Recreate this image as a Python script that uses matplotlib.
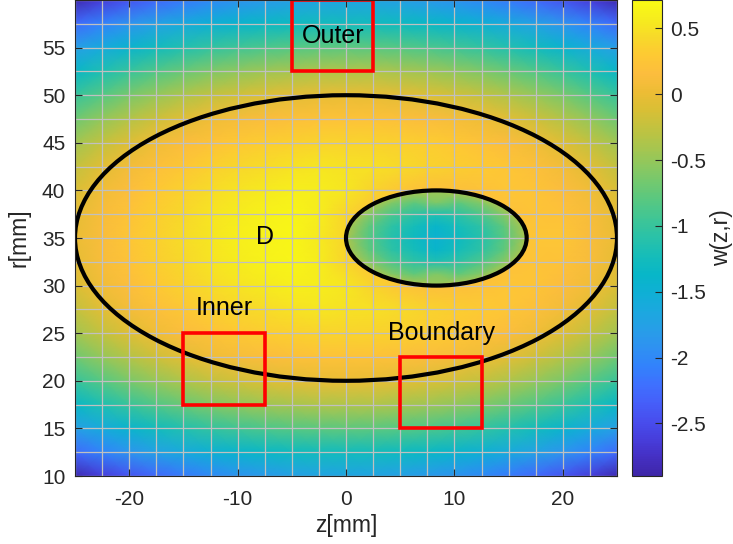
import numpy as np
import matplotlib
matplotlib.use('Agg')
import matplotlib.pyplot as plt
from matplotlib.colors import LinearSegmentedColormap
from matplotlib.patches import Ellipse, Rectangle
from matplotlib.ticker import MultipleLocator, FormatStrFormatter

plt.rcParams['font.family'] = ['Liberation Sans', 'DejaVu Sans']
plt.rcParams['axes.unicode_minus'] = False

# ---------------- data ----------------
z_nodes = [-25, -22.5, -20, -17.5, -15, -12.5, -10, -7.5, -5, -2.5, 0,
           2.5, 5, 7.5, 10, 12.5, 15, 17.5, 20, 22.5, 25]
r_nodes = [10, 12.5, 15, 17.5, 20, 22.5, 25, 27.5, 30, 32.5, 35,
           37.5, 40, 42.5, 45, 47.5, 50, 52.5, 55, 57.5, 60]

w_r10   = [-2.85,-2.62,-2.43,-2.27,-2.13,-2.01,-1.91,-1.83,-1.77,-1.72,-1.70,-1.72,-1.77,-1.83,-1.91,-2.01,-2.13,-2.27,-2.43,-2.62,-2.85]
w_r12_5 = [-2.25,-2.06,-1.89,-1.74,-1.61,-1.50,-1.41,-1.34,-1.29,-1.26,-1.25,-1.26,-1.29,-1.34,-1.41,-1.50,-1.61,-1.74,-1.89,-2.06,-2.25]
w_r15   = [-1.78,-1.59,-1.42,-1.27,-1.14,-1.03,-0.94,-0.87,-0.82,-0.79,-0.78,-0.79,-0.82,-0.87,-0.94,-1.03,-1.14,-1.27,-1.42,-1.59,-1.78]
w_r17_5 = [-1.36,-1.17,-1.00,-0.85,-0.72,-0.61,-0.52,-0.45,-0.40,-0.37,-0.36,-0.37,-0.40,-0.45,-0.52,-0.61,-0.72,-0.85,-1.00,-1.17,-1.36]
w_r20   = [-1.00,-0.81,-0.64,-0.49,-0.36,-0.25,-0.16,-0.09,-0.04,-0.01,0.00,-0.01,-0.04,-0.09,-0.16,-0.25,-0.36,-0.49,-0.64,-0.81,-1.00]
w_r22_5 = [-0.69,-0.50,-0.33,-0.18,-0.05,0.04,0.10,0.15,0.19,0.21,0.21,0.21,0.19,0.15,0.10,0.04,-0.05,-0.18,-0.33,-0.50,-0.69]
w_r25   = [-0.44,-0.25,-0.08,0.05,0.14,0.21,0.28,0.33,0.36,0.38,0.39,0.38,0.36,0.33,0.28,0.21,0.14,0.05,-0.08,-0.25,-0.44]
w_r27_5 = [-0.25,-0.06,0.08,0.18,0.27,0.35,0.41,0.46,0.50,0.52,0.50,0.48,0.44,0.38,0.34,0.30,0.25,0.18,0.08,-0.06,-0.25]
w_r30   = [-0.11,0.06,0.17,0.28,0.37,0.45,0.51,0.56,0.59,0.58,0.52,0.38,0.25,0.18,0.18,0.22,0.26,0.24,0.16,0.06,-0.11]
w_r32_5 = [-0.03,0.11,0.23,0.34,0.43,0.51,0.57,0.62,0.65,0.58,0.40,0.20,0.20,0.20,0.20,0.20,0.20,0.24,0.22,0.11,-0.03]
w_r35   = [0.00,0.13,0.25,0.36,0.45,0.52,0.59,0.64,0.67,0.55,0.40,0.20,0.20,0.20,0.20,0.20,0.20,0.25,0.25,0.13,0.00]
w_r37_5 = [-0.03,0.11,0.23,0.34,0.43,0.51,0.57,0.62,0.65,0.58,0.40,0.20,0.20,0.20,0.20,0.20,0.20,0.24,0.22,0.11,-0.03]
w_r40   = [-0.11,0.06,0.17,0.28,0.37,0.45,0.51,0.56,0.59,0.58,0.52,0.38,0.25,0.18,0.18,0.22,0.26,0.24,0.16,0.06,-0.11]
w_r42_5 = [-0.25,-0.06,0.08,0.18,0.27,0.35,0.41,0.46,0.50,0.52,0.50,0.48,0.44,0.38,0.34,0.30,0.25,0.18,0.08,-0.06,-0.25]
w_r45   = [-0.44,-0.25,-0.08,0.05,0.14,0.21,0.28,0.33,0.36,0.38,0.39,0.38,0.36,0.33,0.28,0.21,0.14,0.05,-0.08,-0.25,-0.44]
w_r47_5 = [-0.69,-0.50,-0.33,-0.18,-0.05,0.04,0.10,0.15,0.19,0.21,0.21,0.21,0.19,0.15,0.10,0.04,-0.05,-0.18,-0.33,-0.50,-0.69]
w_r50   = [-1.00,-0.81,-0.64,-0.49,-0.36,-0.25,-0.16,-0.09,-0.04,-0.01,0.00,-0.01,-0.04,-0.09,-0.16,-0.25,-0.36,-0.49,-0.64,-0.81,-1.00]
w_r52_5 = [-1.36,-1.17,-1.00,-0.85,-0.72,-0.61,-0.52,-0.45,-0.40,-0.37,-0.36,-0.37,-0.40,-0.45,-0.52,-0.61,-0.72,-0.85,-1.00,-1.17,-1.36]
w_r55   = [-1.78,-1.59,-1.42,-1.27,-1.14,-1.03,-0.94,-0.87,-0.82,-0.79,-0.78,-0.79,-0.82,-0.87,-0.94,-1.03,-1.14,-1.27,-1.42,-1.59,-1.78]
w_r57_5 = [-2.25,-2.06,-1.89,-1.74,-1.61,-1.50,-1.41,-1.34,-1.29,-1.26,-1.25,-1.26,-1.29,-1.34,-1.41,-1.50,-1.61,-1.74,-1.89,-2.06,-2.25]
w_r60   = [-2.85,-2.62,-2.43,-2.27,-2.13,-2.01,-1.91,-1.83,-1.77,-1.72,-1.70,-1.72,-1.77,-1.83,-1.91,-2.01,-2.13,-2.27,-2.43,-2.62,-2.85]

# inner (small ellipse) field
z_inner = [0.0, 2.083, 4.167, 6.25, 8.333, 10.417, 12.5, 14.583, 16.667]
r_inner = [30.0, 31.25, 32.5, 33.75, 35.0, 36.25, 37.5, 38.75, 40.0]
wi_r30    = [0.55, 0.13, -0.16, -0.34, -0.45, -0.34, -0.16, 0.13, 0.55]
wi_r31_25 = [0.13, -0.28, -0.58, -0.76, -0.60, -0.76, -0.58, -0.28, 0.13]
wi_r32_5  = [-0.16, -0.58, -0.87, -1.05, -1.15, -1.05, -0.87, -0.58, -0.16]
wi_r33_75 = [-0.34, -0.76, -1.05, -1.23, -1.40, -1.23, -1.05, -0.76, -0.34]
wi_r35    = [-0.40, -0.82, -1.11, -1.29, -1.45, -1.29, -1.11, -0.82, -0.40]
wi_r36_25 = [-0.34, -0.76, -1.05, -1.23, -1.40, -1.23, -1.05, -0.76, -0.34]
wi_r37_5  = [-0.16, -0.58, -0.87, -1.05, -1.15, -1.05, -0.87, -0.58, -0.16]
wi_r38_75 = [0.13, -0.28, -0.58, -0.76, -0.60, -0.76, -0.58, -0.28, 0.13]
wi_r40    = [0.55, 0.13, -0.16, -0.34, -0.45, -0.34, -0.16, 0.13, 0.55]

# domain outlines and regions
outer_center, outer_w, outer_h = (0, 35), 50, 30
inner_center, inner_w, inner_h = (8.333, 35), 16.667, 10
box_names = ['Outer', 'Inner', 'Boundary']
box_z0 = [-5, -15, 5]
box_r0 = [52.5, 17.5, 15]
box_size = [7.5, 7.5, 7.5]
label_text = ['Outer', 'Inner', 'Boundary', 'D']
label_z = [-1.2, -11.2, 8.8, -7.5]
label_r = [56.2, 27.6, 25.0, 35.1]

x_ticks = [-20, -10, 0, 10, 20]
y_ticks = [10, 15, 20, 25, 30, 35, 40, 45, 50, 55]
cb_ticks = [0.5, 0, -0.5, -1, -1.5, -2, -2.5]
c_min, c_max = -2.9, 0.716

# ---------------- parula-like colormap ----------------
parula_pts = [
    (0.2422, 0.1504, 0.6603), (0.2691, 0.1871, 0.7647), (0.2783, 0.2439, 0.8615),
    (0.2813, 0.3067, 0.9342), (0.2713, 0.3733, 0.9773), (0.2434, 0.4418, 0.9967),
    (0.1964, 0.5125, 0.9858), (0.1815, 0.5705, 0.9485), (0.1532, 0.6207, 0.9060),
    (0.1071, 0.6588, 0.8729), (0.0592, 0.6881, 0.8335), (0.0305, 0.7158, 0.7843),
    (0.0843, 0.7389, 0.7264), (0.1593, 0.7583, 0.6617), (0.2432, 0.7729, 0.5888),
    (0.3362, 0.7832, 0.5120), (0.4425, 0.7868, 0.4391), (0.5559, 0.7829, 0.3695),
    (0.6617, 0.7736, 0.3053), (0.7576, 0.7616, 0.2492), (0.8469, 0.7491, 0.2091),
    (0.9282, 0.7390, 0.2087), (0.9879, 0.7407, 0.2424), (0.9951, 0.7876, 0.2020),
    (0.9681, 0.8503, 0.1643), (0.9657, 0.9254, 0.1147), (0.9769, 0.9839, 0.0805)]
parula = LinearSegmentedColormap.from_list('parula', parula_pts, N=256)

# ---------------- figure ----------------
fig = plt.figure(figsize=(7.33, 5.44), dpi=100)
ax = fig.add_axes([75/733, 68/544, 542/733, 476/544])

W = np.array([w_r10, w_r12_5, w_r15, w_r17_5, w_r20, w_r22_5, w_r25, w_r27_5,
              w_r30, w_r32_5, w_r35, w_r37_5, w_r40, w_r42_5, w_r45, w_r47_5,
              w_r50, w_r52_5, w_r55, w_r57_5, w_r60])
Z, R = np.meshgrid(z_nodes, r_nodes)
mesh = ax.pcolormesh(Z, R, W, shading='gouraud', cmap=parula,
                     vmin=c_min, vmax=c_max, zorder=0)

Wi = np.array([wi_r30, wi_r31_25, wi_r32_5, wi_r33_75, wi_r35, wi_r36_25,
               wi_r37_5, wi_r38_75, wi_r40])
Zi, Ri = np.meshgrid(z_inner, r_inner)
mesh_in = ax.pcolormesh(Zi, Ri, Wi, shading='gouraud', cmap=parula,
                        vmin=c_min, vmax=c_max, zorder=0.5)
clip_el = Ellipse(inner_center, inner_w, inner_h, transform=ax.transData)
mesh_in.set_clip_path(clip_el)

ax.set_xlim(-25, 25)
ax.set_ylim(10, 60)
ax.set_xticks(x_ticks)
ax.set_yticks(y_ticks)
ax.xaxis.set_minor_locator(MultipleLocator(2.5))
ax.yaxis.set_minor_locator(MultipleLocator(2.5))
ax.grid(which='both', color='#c0c0c0', linewidth=0.9, zorder=1)
ax.set_axisbelow(False)

dark = (0.15, 0.15, 0.15)
ax.tick_params(which='major', direction='in', length=5, width=0.8, top=True,
               right=True, labelsize=15, colors=dark)
ax.tick_params(axis='x', which='major', pad=10)
ax.tick_params(axis='y', which='major', pad=7)
ax.tick_params(which='minor', length=0, top=True, right=True)
for s in ax.spines.values():
    s.set_color(dark)
    s.set_linewidth(0.8)
    s.set_zorder(5)

ax.add_patch(Ellipse(outer_center, outer_w, outer_h, fill=False,
                     edgecolor='black', linewidth=3, zorder=3))
ax.add_patch(Ellipse(inner_center, inner_w, inner_h, fill=False,
                     edgecolor='black', linewidth=3, zorder=3))
for z0, r0, s in zip(box_z0, box_r0, box_size):
    ax.add_patch(Rectangle((z0, r0), s, s, fill=False, edgecolor='red',
                           linewidth=2.6, zorder=4, clip_on=False))
for t, zt, rt in zip(label_text, label_z, label_r):
    ax.text(zt, rt, t, ha='center', va='center', fontsize=18, color='black',
            zorder=6)

ax.set_xlabel('z[mm]', fontsize=16.5, color=dark, labelpad=4)
ax.set_ylabel('r[mm]', fontsize=16.5, color=dark, labelpad=8)

cax = fig.add_axes([632/733, 68/544, 30/733, 476/544])
cb = fig.colorbar(mesh, cax=cax, ticks=cb_ticks,
                  format=FormatStrFormatter('%g'))
cb.ax.tick_params(direction='in', length=5, width=0.8, labelsize=15,
                  colors=dark, pad=6)
cb.outline.set_edgecolor(dark)
cb.outline.set_linewidth(0.8)
cb.set_label('w(z,r)', fontsize=16.5, color=dark, labelpad=3)

fig.savefig('out.png', dpi=100)
